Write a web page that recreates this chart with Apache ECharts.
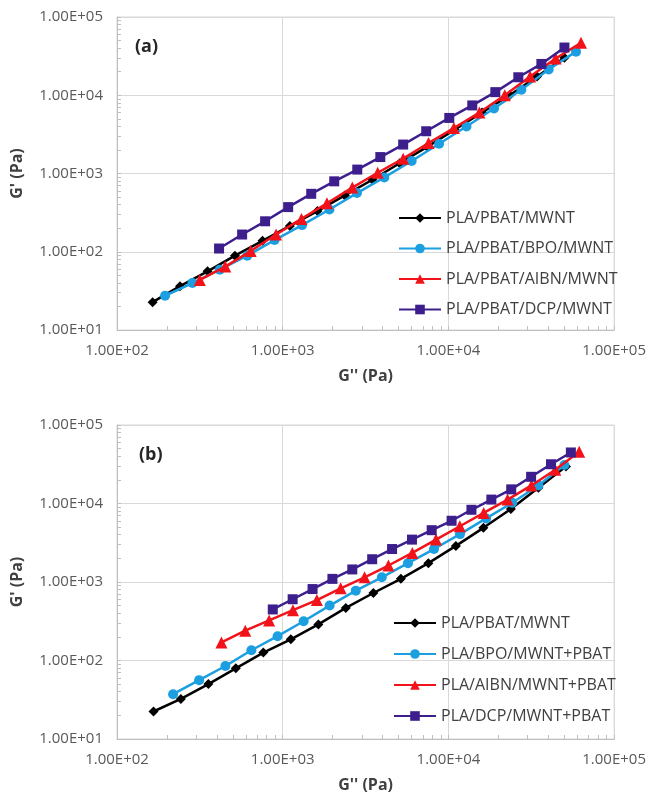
<!DOCTYPE html>
<html>
<head>
<meta charset="utf-8">
<script src="https://cdn.jsdelivr.net/npm/echarts@6/dist/echarts.min.js"></script>
<style>
  html, body { margin: 0; padding: 0; background: #ffffff; }
  #chart { width: 649px; height: 803px; }
</style>
</head>
<body>
<div id="chart"></div>
<script>
// Cole-Cole style plots: storage modulus G' against loss modulus G'' (Pa)

// ---- panel (a) ----
const namesA = ['PLA/PBAT/MWNT', 'PLA/PBAT/BPO/MWNT', 'PLA/PBAT/AIBN/MWNT', 'PLA/PBAT/DCP/MWNT'];

const a1X = [164, 240, 352, 515, 755, 1105, 1620, 2370, 3475, 5080, 7450, 10900, 15960, 23400, 34270, 50100];
const a1Y = [22.7, 36.3, 56.2, 89.1, 138, 214, 331, 525, 832, 1350, 2190, 3630, 6030, 10000, 17400, 30200];

const a2X = [195, 285, 417, 611, 893, 1309, 1914, 2805, 4102, 6000, 8790, 12850, 18840, 27540, 40270, 58880];
const a2Y = [27.4, 39.8, 58.9, 89.1, 141, 219, 347, 562, 891, 1445, 2400, 3980, 6760, 11750, 21400, 36100];

const a3X = [316, 450, 641, 912, 1297, 1849, 2630, 3741, 5333, 7586, 10790, 15380, 21880, 31120, 44360, 63100];
const a3Y = [43.7, 64.6, 102, 166, 263, 417, 661, 1023, 1549, 2455, 3802, 6026, 10000, 17380, 29510, 46770];

const a4X = [413, 569, 783, 1079, 1486, 2046, 2818, 3882, 5333, 7345, 10120, 13930, 19190, 26420, 36390, 50120];
const a4Y = [110, 166, 245, 372, 550, 794, 1122, 1622, 2344, 3467, 5129, 7413, 10960, 16980, 25120, 40740];

// ---- panel (b) ----
const namesB = ['PLA/PBAT/MWNT', 'PLA/BPO/MWNT+PBAT', 'PLA/AIBN/MWNT+PBAT', 'PLA/DCP/MWNT+PBAT'];

const b1X = [166, 243, 356, 521, 764, 1119, 1641, 2404, 3524, 5164, 7568, 11090, 16260, 23820, 34910, 51170];
const b1Y = [22.4, 32.4, 50.1, 79.4, 126, 186, 288, 468, 724, 1096, 1738, 2884, 4898, 8511, 15850, 29510];

const b2X = [218, 313, 451, 647, 931, 1337, 1919, 2761, 3963, 5702, 8185, 11750, 16900, 24270, 34910, 50120];
const b2Y = [37.2, 56.2, 85.1, 135, 204, 316, 501, 776, 1148, 1738, 2630, 4074, 6457, 10230, 16980, 30900];

const b3X = [427, 594, 828, 1153, 1607, 2239, 3119, 4345, 6053, 8414, 11720, 16330, 22750, 31700, 44160, 61520];
const b3Y = [170, 240, 324, 437, 589, 832, 1148, 1622, 2344, 3467, 5129, 7586, 11220, 16980, 26920, 45710];

const b4X = [871, 1148, 1514, 1995, 2630, 3467, 4571, 6026, 7925, 10450, 13770, 18160, 23930, 31550, 41590, 54830];
const b4Y = [447, 603, 813, 1096, 1445, 1950, 2630, 3467, 4571, 6026, 8318, 11220, 15140, 21880, 31620, 44670];

// axis ranges (decades)
const xRange = [1e2, 1e5];
const yRange = [1e1, 1e5];

const xTitle = "G'' (Pa)";
const yTitle = "G' (Pa)";
const panelTags = ['(a)', '(b)'];

// ---- styling ----
const FONT = 'Open Sans';
const colors = ['#000000', '#1C9FE0', '#F2131A', '#3D1E8D'];
const symbols = ['diamond', 'circle', 'triangle', 'rect'];
const symbolSizes = [10, 10, 12, 10];

function sci(v) {
  const e = Math.round(Math.log10(v));
  const m = v / Math.pow(10, e);
  const sign = e < 0 ? '-' : '+';
  const ae = Math.abs(e);
  return m.toFixed(2) + 'E' + sign + (ae < 10 ? '0' : '') + ae;
}

function zip(xs, ys) { return xs.map((x, i) => [x, ys[i]]); }

const grids = [
  { left: 117, top: 17, width: 498, height: 313 },
  { left: 117, top: 425, width: 498, height: 314 }
];

const axisCommon = {
  type: 'log', logBase: 10,
  nameLocation: 'middle',
  nameTextStyle: { fontFamily: FONT, fontSize: 16, fontWeight: 'bold', color: '#404040' },
  axisLine: { show: true, lineStyle: { color: '#BFBFBF', width: 1 } },
  axisTick: { show: true, inside: true, length: 4, lineStyle: { color: '#BFBFBF' } },
  minorTick: { show: true, splitNumber: 9, length: 4, lineStyle: { color: '#BFBFBF' } },
  splitLine: { show: true, lineStyle: { color: '#D9D9D9', width: 1 } },
  minorSplitLine: { show: false }
};

const xAxes = grids.map((g, gi) => Object.assign({}, axisCommon, {
  gridIndex: gi, min: xRange[0], max: xRange[1], position: 'bottom',
  name: xTitle, nameGap: 38,
  axisLabel: { fontFamily: FONT, fontSize: 15, color: '#595959', margin: 13, formatter: sci }
}));
const yAxes = grids.map((g, gi) => Object.assign({}, axisCommon, {
  gridIndex: gi, min: yRange[0], max: yRange[1], position: 'left',
  name: yTitle, nameGap: 92, nameRotate: 90,
  axisLabel: { fontFamily: FONT, fontSize: 15, color: '#595959', margin: 14, formatter: sci }
}));

// light frame around each plot area
grids.forEach(g => { g.show = true; g.borderColor = '#D9D9D9'; g.borderWidth = 1; });

const panelData = [
  [zip(a1X, a1Y), zip(a2X, a2Y), zip(a3X, a3Y), zip(a4X, a4Y)],
  [zip(b1X, b1Y), zip(b2X, b2Y), zip(b3X, b3Y), zip(b4X, b4Y)]
];
const panelNames = [namesA, namesB];

const series = [];
panelData.forEach((sets, pi) => {
  sets.forEach((d, si) => {
    series.push({
      type: 'line',
      name: panelNames[pi][si],
      xAxisIndex: pi, yAxisIndex: pi,
      data: d,
      symbol: symbols[si],
      symbolSize: symbolSizes[si],
      z: 2 + si,
      lineStyle: { color: colors[si], width: 2.5 },
      itemStyle: { color: colors[si], borderWidth: 0 },
      showSymbol: true,
      animation: false
    });
  });
});

const legendBase = {
  orient: 'vertical', padding: 0,
  itemWidth: 42, itemHeight: 12, itemGap: 14.5,
  selectedMode: false,
  textStyle: { fontFamily: FONT, fontSize: 16, color: '#404040', lineHeight: 16 }
};

const option = {
  backgroundColor: '#ffffff',
  animation: false,
  grid: grids,
  xAxis: xAxes,
  yAxis: yAxes,
  legend: [
    Object.assign({}, legendBase, { left: 398, top: 210, data: namesA }),
    Object.assign({}, legendBase, { left: 393, top: 615, itemGap: 15, data: namesB })
  ],
  graphic: [
    { type: 'text', left: 135, top: 38, style: { text: panelTags[0], fontFamily: FONT, fontSize: 18, fontWeight: 'bold', fill: '#262626' } },
    { type: 'text', left: 139, top: 446, style: { text: panelTags[1], fontFamily: FONT, fontSize: 18, fontWeight: 'bold', fill: '#262626' } }
  ],
  series: series
};

const chart = echarts.init(document.getElementById('chart'), null, { renderer: 'canvas' });
chart.setOption(option);
</script>
</body>
</html>
